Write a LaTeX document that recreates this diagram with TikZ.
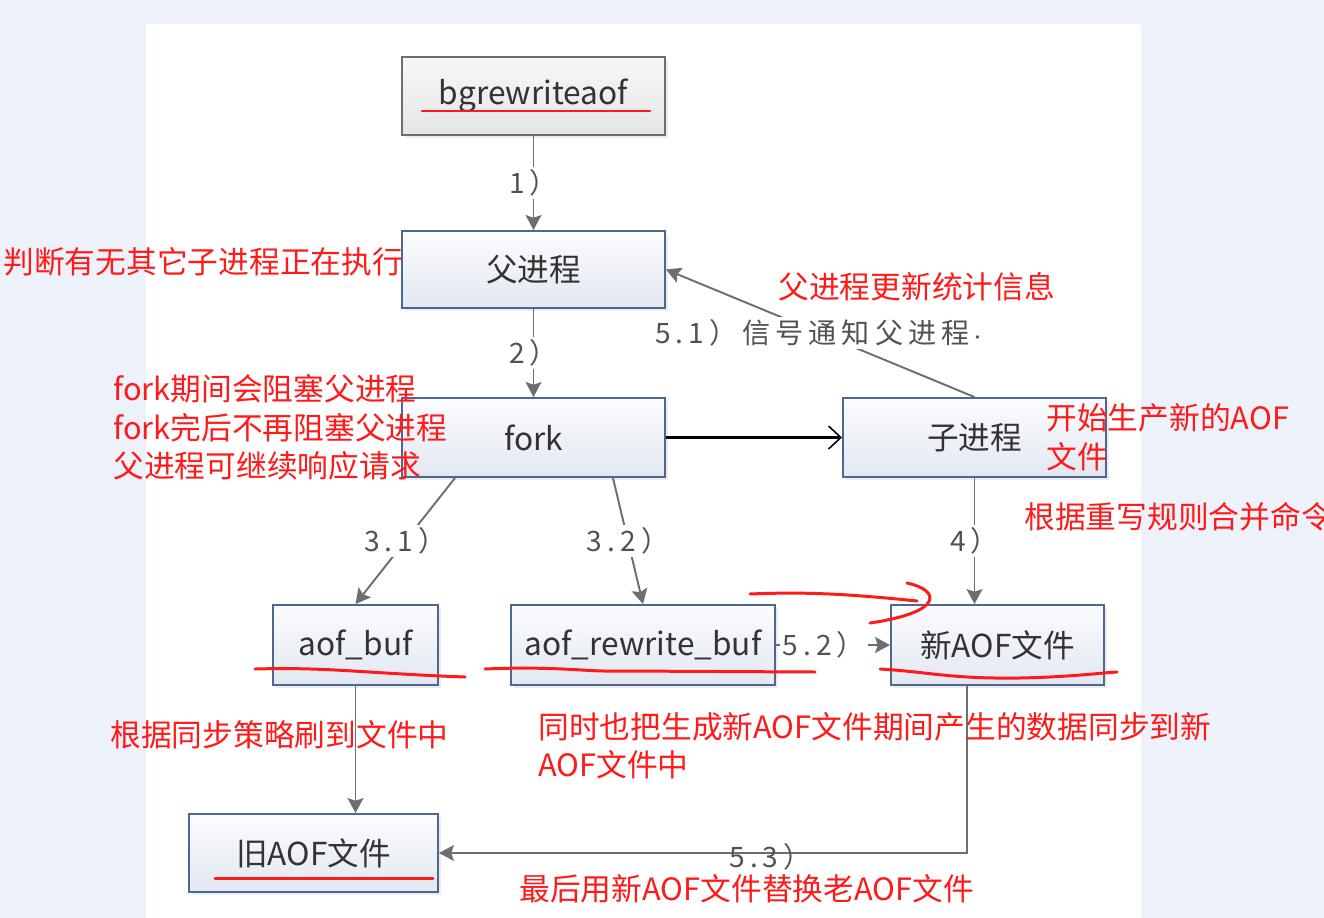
\documentclass[tikz,border=0pt]{standalone}
\usepackage{fontspec}
\setmainfont{Noto Sans CJK SC}
\newfontfamily\steptype[LetterSpace=18]{Noto Sans CJK SC}
\usetikzlibrary{arrows.meta,shadows}
\definecolor{pagebg}{HTML}{EDF1FA}
\definecolor{boxline}{HTML}{4F6790}
\definecolor{boxtop}{HTML}{FBFCFE}
\definecolor{boxbot}{HTML}{E2E7F1}
\definecolor{flowgray}{HTML}{6E6E6E}
\definecolor{notered}{HTML}{FF1A1A}
\definecolor{ink}{HTML}{333333}

\begin{document}
\begin{tikzpicture}[x=0.02cm,y=-0.02cm,
  box/.style={draw=boxline,line width=1.1pt,top color=boxtop,bottom color=boxbot,
    text=ink,font=\fontsize{18}{20}\selectfont,inner sep=0pt,
    drop shadow={opacity=0.15,shadow xshift=1.5pt,shadow yshift=-1.5pt}},
  flow/.style={draw=flowgray,line width=1.1pt,-{Stealth[length=8.5pt,width=9pt,inset=1.5pt]}},
  steplbl/.style={fill=white,text=ink!85,font=\steptype\fontsize{16}{18}\selectfont,inner sep=1.5pt},
  note/.style={text=notered,font=\fontsize{17.5}{20}\selectfont,anchor=west,inner sep=0pt},
  redline/.style={draw=notered,line width=1.7pt,line cap=round}]

  % page
  \fill[pagebg] (0,0) rectangle (1324,918);
  \fill[white] (146,24) rectangle (1141,918);
  \useasboundingbox (0,0) rectangle (1324,918);

  % boxes
  \node[box,draw=flowgray,top color=white!97!black,bottom color=white!90!black,
        minimum width=5.26cm,minimum height=1.56cm] (bgrw) at (533.5,96) {bgrewriteaof};
  \node[box,minimum width=5.26cm,minimum height=1.54cm] (parent) at (533.5,269.5) {父进程};
  \node[box,minimum width=5.26cm,minimum height=1.58cm] (fork) at (533.5,437.5) {fork};
  \node[box,minimum width=5.26cm,minimum height=1.58cm] (child) at (974.5,437.5) {子进程};
  \node[box,minimum width=3.3cm,minimum height=1.6cm] (aofbuf) at (355.5,645) {aof\_buf};
  \node[box,minimum width=5.28cm,minimum height=1.6cm] (rwbuf) at (643,645) {aof\_rewrite\_buf};
  \node[box,minimum width=4.26cm,minimum height=1.6cm] (newaof) at (997.5,645) {新AOF文件};
  \node[box,minimum width=4.98cm,minimum height=1.56cm] (oldaof) at (313.5,853) {旧AOF文件};

  % connectors
  \draw[flow] (bgrw) -- node[steplbl] {1）} (parent);
  \draw[flow] (parent) -- node[steplbl] {2）} (fork);
  \draw[black,line width=1.7pt,-{Straight Barb[length=7pt,width=13pt,line width=0.9pt]}] (fork) -- (child);
  \draw[flow] ([xshift=-1.57cm]fork.south) -- node[steplbl] {3.1）} (aofbuf.north);
  \draw[flow] ([xshift=1.59cm]fork.south) -- node[steplbl] {3.2）} (rwbuf.north);
  \draw[flow] (child.south) -- node[steplbl] {4）} (child.south |- newaof.north);
  \draw[flow] (child.north) -- node[steplbl] {5.1）信号通知父进程{\fontsize{9}{9}\selectfont ·}} (parent.east);
  \draw[flow] (rwbuf) -- node[steplbl,pos=0.42] {5.2）} (newaof);
  \draw[flow] (aofbuf.south) -- (aofbuf.south |- oldaof.north);
  \draw[flow] ([xshift=-0.61cm]newaof.south) |- node[pos=0.686,yshift=-2pt,text=ink!85,font=\steptype\fontsize{16}{18}\selectfont] {5.3）} (oldaof.east);

  % notes
  \node[note] (nchk) at (3,262) {判断有无其它子进程正在执行};
  \node[note] (nstat) at (778,287) {父进程更新统计信息};
  \foreach \y/\txt in {389/fork期间会阻塞父进程, 428/fork完后不再阻塞父进程, 466/父进程可继续响应请求} {
    \node[note] at (113,\y) {\txt};
  }
  \node[note] (nprod) at (1046,418) {开始生产新的AOF};
  \node[note] (nfile) at (1046,457) {文件};
  \node[note] (nrule) at (1024,517) {根据重写规则合并命令};
  \node[note] (nsync) at (110,735) {根据同步策略刷到文件中};
  \node[note] (ncopy) at (538,727) {同时也把生成新AOF文件期间产生的数据同步到新};
  \node[note] (ncopyb) at (538,765) {AOF文件中};
  \node[note] (nswap) at (519,889) {最后用新AOF文件替换老AOF文件};

  % hand marks
  \draw[redline] (422,111) -- (650,111);
  \draw[redline] (255,669) .. controls (330,667) and (360,673) .. (465,677);
  \draw[redline] (485,669) .. controls (560,666) and (585,672) .. (620,671) -- (815,672);
  \draw[redline] (750,594) .. controls (800,592) and (840,593) .. (917,601);
  \draw[redline] (907,583) .. controls (940,590) and (945,612) .. (870,623);
  \draw[redline] (880,669) .. controls (930,672) and (950,679) .. (1020,678)
                 .. controls (1070,677) and (1100,673) .. (1117,672);
  \draw[redline] (215,878) -- (433,878);
\end{tikzpicture}
\end{document}
